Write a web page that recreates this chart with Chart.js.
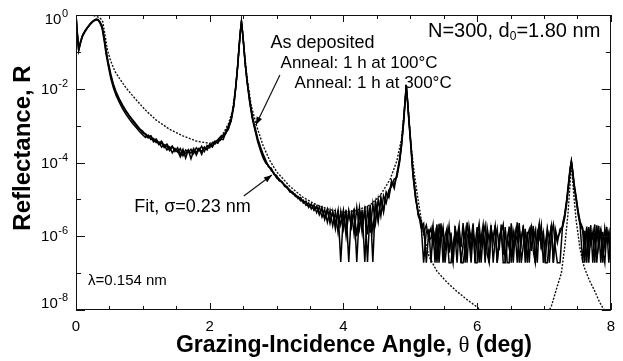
<!DOCTYPE html>
<html><head><meta charset="utf-8">
<script src="https://cdn.jsdelivr.net/npm/chart.js@4.4.1/dist/chart.umd.min.js"></script>
<style>html,body{margin:0;padding:0;background:#fff}#wrap{width:623px;height:361px}</style>
</head><body><div id="wrap"><canvas id="c" width="623" height="361"></canvas></div>
<script>
// Grazing-incidence angle (deg) of the measured scans
const measAngle = [
 0, 0.02, 0.04, 0.07, 0.1, 0.14, 0.18, 0.22, 0.26, 0.3, 0.33, 0.36, 0.39, 0.42, 0.45, 0.48, 0.52, 0.56, 0.6, 0.65, 0.7, 0.75, 0.8, 0.85, 0.9, 0.95, 1.0,
 1.04, 1.08, 1.12, 1.16, 1.2, 1.24, 1.28, 1.32, 1.36, 1.4, 1.44, 1.48, 1.52, 1.56, 1.6, 1.64, 1.68, 1.72, 1.76, 1.8, 1.84, 1.88, 1.92, 1.96, 2.0, 2.04, 2.08, 2.12, 2.16, 2.2, 2.24, 2.28,
 2.32, 2.36, 2.39, 2.42, 2.44, 2.46, 2.475, 2.49, 2.51, 2.53, 2.56, 2.6, 2.64, 2.68, 2.72, 2.76, 2.8,
 2.84, 2.88, 2.92, 2.96, 3.0, 3.04, 3.08, 3.12, 3.16, 3.2, 3.24, 3.28, 3.32, 3.36, 3.4, 3.44, 3.48, 3.52, 3.56, 3.6, 3.64, 3.68, 3.72, 3.76, 3.8, 3.84, 3.88, 3.92, 3.96, 4.0, 4.04, 4.08, 4.12, 4.16, 4.2, 4.24, 4.28, 4.32, 4.36, 4.4, 4.44, 4.48, 4.52, 4.56, 4.6, 4.64, 4.68,
 4.72, 4.76, 4.8, 4.84, 4.87, 4.9, 4.92, 4.94, 4.96, 4.98, 5.01, 5.04, 5.08, 5.12, 5.16, 5.2, 5.24, 5.28,
 5.31, 5.34, 5.37, 5.4, 5.43, 5.46, 5.49, 5.52, 5.55, 5.58, 5.61, 5.64, 5.67, 5.7, 5.73, 5.76, 5.79, 5.82, 5.85, 5.88, 5.91, 5.94, 5.97, 6.0, 6.03, 6.06, 6.09, 6.12, 6.15, 6.18, 6.21, 6.24, 6.27, 6.3, 6.33, 6.36, 6.39, 6.42, 6.45, 6.48, 6.51, 6.54, 6.57, 6.6, 6.63, 6.66, 6.69, 6.72, 6.75, 6.78, 6.81, 6.84, 6.87, 6.9, 6.93, 6.96, 6.99, 7.02, 7.05, 7.08, 7.11, 7.14, 7.17, 7.2,
 7.24, 7.28, 7.31, 7.34, 7.37, 7.39, 7.41, 7.43, 7.45, 7.48, 7.51, 7.54, 7.58,
 7.61, 7.64, 7.67, 7.7, 7.73, 7.76, 7.79, 7.82, 7.85, 7.88, 7.91, 7.94, 7.97, 8.0
];
// log10 of reflectance, as deposited
const logR_asDeposited = [
 0, -0.5, -0.95, -0.72, -0.55, -0.42, -0.32, -0.23, -0.16, -0.12, -0.13, -0.2, -0.32, -0.62, -1.0, -1.3, -1.65, -1.92, -2.12, -2.32, -2.48, -2.63, -2.76, -2.88, -3.0, -3.1, -3.2,
 -3.22, -3.30, -3.27, -3.40, -3.36, -3.48, -3.42, -3.55, -3.50, -3.62, -3.55, -3.70, -3.60, -3.78, -3.64, -3.88, -3.66, -3.75, -3.62, -3.80, -3.63, -3.70, -3.58, -3.66, -3.52, -3.58, -3.44, -3.48, -3.36, -3.38, -3.20, -3.10,
 -2.85, -2.45, -1.95, -1.35, -0.85, -0.42, -0.18, -0.45, -0.85, -1.30, -1.80, -2.35, -2.80, -3.10, -3.40, -3.62, -3.82,
 -3.98, -4.10, -4.18, -4.30, -4.38, -4.45, -4.55, -4.60, -4.70, -4.74, -4.85, -4.86, -4.98, -4.95, -5.10, -5.05, -5.22, -5.12, -5.30, -5.18, -5.42, -5.25, -5.55, -5.30, -5.65, -5.32, -5.80, -5.35, -5.70, -5.30, -6.00, -5.35, -5.75, -5.25, -6.70, -5.30, -5.90, -5.20, -6.70, -5.25, -5.85, -5.10, -5.60, -4.95, -5.30, -4.80, -4.95,
 -4.55, -4.60, -4.35, -3.95, -3.50, -2.90, -2.40, -1.92, -2.35, -2.85, -3.55, -4.30, -4.95, -5.40, -5.55, -5.90, -5.70, -6.10,
 -6.05, -5.70, -6.72, -5.85, -6.30, -5.65, -6.72, -6.00, -5.78, -6.45, -5.90, -6.72, -5.72, -6.20, -5.95, -6.72, -6.72, -6.35, -5.62, -6.10, -6.72, -5.88, -6.25, -5.75, -6.72, -6.05, -5.68, -6.40, -5.92, -6.72, -5.80, -6.15, -5.70, -6.72, -6.00, -5.85, -6.50, -5.75, -6.72, -6.72, -5.65, -6.30, -5.90, -6.72, -5.78, -6.20, -5.70, -6.72, -6.00, -5.82, -6.40, -5.72, -6.72, -6.08, -5.66, -6.35, -5.85, -6.72, -6.72, -6.15, -5.70, -6.72, -5.80, -6.05,
 -5.90, -5.70, -5.45, -5.05, -4.55, -4.20, -3.97, -4.25, -4.60, -4.95, -5.35, -5.65, -5.85,
 -6.72, -5.80, -6.25, -5.70, -6.72, -5.95, -6.10, -5.72, -6.72, -5.88, -6.30, -5.75, -6.72, -6.00
];
// log10 of reflectance, anneal 1 h at 100 C
const logR_anneal100 = [
 0, -0.52, -0.97, -0.75, -0.57, -0.44, -0.33, -0.24, -0.17, -0.13, -0.14, -0.22, -0.36, -0.68, -1.06, -1.36, -1.72, -1.98, -2.18, -2.38, -2.55, -2.70, -2.83, -2.95, -3.05, -3.16, -3.25,
 -3.32, -3.26, -3.38, -3.35, -3.46, -3.44, -3.58, -3.52, -3.66, -3.58, -3.74, -3.62, -3.68, -3.85, -3.70, -3.76, -3.66, -3.90, -3.68, -3.72, -3.62, -3.78, -3.60, -3.64, -3.50, -3.55, -3.42, -3.46, -3.30, -3.32, -3.15, -3.05,
 -2.88, -2.48, -1.98, -1.38, -0.88, -0.44, -0.20, -0.47, -0.88, -1.33, -1.84, -2.40, -2.84, -3.15, -3.45, -3.68, -3.88,
 -4.02, -4.08, -4.22, -4.28, -4.42, -4.48, -4.52, -4.65, -4.68, -4.80, -4.82, -4.92, -4.94, -5.04, -5.02, -5.16, -5.10, -5.26, -5.15, -5.36, -5.20, -5.48, -5.28, -5.62, -5.30, -5.72, -5.34, -5.90, -5.32, -5.80, -5.28, -6.70, -5.30, -5.95, -5.22, -5.80, -5.28, -6.70, -5.18, -5.90, -5.12, -5.65, -5.00, -5.45, -4.90, -5.10, -4.75,
 -4.65, -4.45, -4.40, -4.00, -3.55, -2.95, -2.45, -1.95, -2.40, -2.90, -3.60, -4.35, -5.00, -5.35, -5.75, -5.65, -6.72, -5.80,
 -6.72, -5.82, -6.10, -5.68, -6.72, -6.02, -5.75, -6.40, -5.88, -6.72, -6.72, -6.18, -5.95, -6.72, -5.78, -6.30, -5.64, -6.72, -6.05, -5.82, -6.45, -5.72, -6.72, -6.00, -5.66, -6.25, -5.90, -6.72, -5.76, -6.12, -5.70, -6.72, -6.08, -5.80, -6.38, -5.68, -6.72, -6.72, -6.20, -5.74, -6.72, -5.86, -6.15, -5.62, -6.72, -6.02, -5.78, -6.42, -5.88, -6.72, -5.70, -6.10, -5.84, -6.72, -5.66, -6.28, -5.92, -6.72, -5.80, -6.05, -5.72, -6.72, -5.90, -6.18,
 -5.80, -5.75, -5.50, -5.10, -4.60, -4.24, -4.00, -4.28, -4.64, -5.00, -5.40, -5.70, -6.72,
 -5.85, -6.72, -5.75, -6.20, -5.90, -6.72, -5.70, -6.30, -5.82, -6.72, -5.78, -6.10, -5.88, -6.72
];
// log10 of reflectance, anneal 1 h at 300 C
const logR_anneal300 = [
 0, -0.48, -0.93, -0.70, -0.54, -0.41, -0.31, -0.22, -0.15, -0.11, -0.12, -0.19, -0.30, -0.58, -0.96, -1.26, -1.60, -1.88, -2.08, -2.28, -2.45, -2.60, -2.73, -2.85, -2.96, -3.08, -3.15,
 -3.25, -3.34, -3.30, -3.44, -3.40, -3.52, -3.47, -3.60, -3.55, -3.68, -3.58, -3.65, -3.72, -3.62, -3.82, -3.66, -3.72, -3.64, -3.76, -3.60, -3.68, -3.56, -3.70, -3.54, -3.60, -3.46, -3.50, -3.38, -3.40, -3.25, -3.22, -3.00,
 -2.82, -2.42, -1.92, -1.32, -0.82, -0.40, -0.17, -0.43, -0.83, -1.28, -1.78, -2.32, -2.76, -3.06, -3.36, -3.58, -3.78,
 -3.95, -4.12, -4.15, -4.32, -4.35, -4.50, -4.52, -4.62, -4.66, -4.78, -4.80, -4.90, -4.92, -5.00, -5.06, -5.08, -5.18, -5.15, -5.28, -5.20, -5.38, -5.22, -5.50, -5.26, -5.58, -5.36, -5.65, -5.30, -6.70, -5.38, -5.85, -5.30, -5.70, -5.32, -6.00, -5.22, -5.75, -5.28, -5.95, -5.15, -6.70, -5.05, -5.55, -4.98, -5.35, -4.85, -4.90,
 -4.50, -4.70, -4.30, -3.90, -3.45, -2.85, -2.36, -1.90, -2.32, -2.82, -3.50, -4.25, -4.90, -5.45, -5.60, -6.72, -5.85, -5.95,
 -5.78, -6.25, -5.92, -6.72, -5.66, -6.08, -5.85, -6.72, -6.15, -5.72, -6.35, -6.72, -5.80, -6.02, -5.70, -6.72, -6.22, -5.86, -6.72, -5.74, -6.10, -5.65, -6.72, -6.72, -5.82, -6.72, -5.96, -5.70, -6.48, -6.72, -5.84, -6.05, -5.72, -6.72, -6.18, -5.88, -5.68, -6.72, -6.00, -6.32, -5.76, -6.72, -5.92, -6.12, -5.64, -6.72, -6.26, -5.80, -6.72, -5.98, -5.74, -6.40, -6.72, -5.86, -6.06, -5.70, -6.72, -6.20, -5.82, -6.72, -5.94, -5.68, -6.30, -6.72,
 -6.72, -5.65, -5.40, -5.00, -4.50, -4.16, -3.95, -4.22, -4.56, -4.92, -5.30, -5.60, -5.78,
 -6.20, -5.74, -6.72, -5.92, -6.05, -5.68, -6.72, -6.00, -5.80, -6.40, -6.72, -5.86, -6.15, -5.74
];
// Fit, sigma = 0.23 nm
const fitAngle = [0, 0.1, 0.2, 0.28, 0.33, 0.37, 0.4, 0.43, 0.47, 0.52, 0.58, 0.65, 0.75, 0.9, 1.05, 1.2, 1.4, 1.6, 1.8, 2.0, 2.1, 2.2, 2.28, 2.34, 2.39, 2.43, 2.46, 2.475, 2.49, 2.52, 2.56, 2.62, 2.7, 2.8, 2.9, 3.0, 3.2, 3.4, 3.6, 3.8, 4.0, 4.2, 4.4, 4.55, 4.7, 4.8, 4.87, 4.91, 4.94, 4.97, 5.01, 5.06, 5.12, 5.2, 5.28, 5.4, 5.55, 5.7, 5.85, 6.0, 6.05, 7.08, 7.11, 7.2, 7.26, 7.31, 7.36, 7.39, 7.41, 7.44, 7.48, 7.54, 7.6, 7.68, 7.75, 7.83, 7.9, 8.0];
const logR_fit = [0, 0, 0, -0.02, -0.06, -0.1, -0.18, -0.5, -0.95, -1.25, -1.52, -1.72, -1.98, -2.3, -2.6, -2.85, -3.1, -3.28, -3.42, -3.48, -3.42, -3.22, -2.95, -2.6, -1.95, -1.1, -0.45, -0.2, -0.42, -1.0, -1.72, -2.45, -3.0, -3.55, -3.95, -4.25, -4.65, -4.95, -5.15, -5.28, -5.35, -5.3, -5.15, -4.9, -4.45, -3.95, -3.35, -2.6, -1.92, -2.55, -3.5, -4.3, -5.05, -5.95, -6.55, -6.95, -7.25, -7.5, -7.72, -7.92, -8, -8, -7.9, -7.35, -7.0, -6.3, -5.37, -4.6, -4.0, -4.75, -5.55, -6.35, -6.83, -7.2, -7.45, -7.78, -8, -8];

const xTickPositions = [0, 0.5, 1, 1.5, 2, 2.5, 3, 3.5, 4, 4.5, 5, 5.5, 6, 6.5, 7, 7.5, 8];
const xLabelValues = [0, 2, 4, 6, 8];
const yTickDecades = [0, -1, -2, -3, -4, -5, -6, -7, -8];
const yLabelExponents = [0, -2, -4, -6, -8];

function toPoints(xs, logs) {
  const n = Math.min(xs.length, logs.length);
  const out = [];
  for (let i = 0; i < n; i++) out.push({x: xs[i], y: Math.pow(10, logs[i])});
  return out;
}

const FONT = '"Liberation Sans", Arial, Helvetica, sans-serif';
Chart.defaults.font.family = FONT;

const decor = {
  id: 'decor',
  afterDraw(chart) {
    const {ctx, chartArea: a, scales: {x, y}} = chart;
    const P = (t, lg) => [x.getPixelForValue(t), y.getPixelForValue(Math.pow(10, lg))];
    ctx.save();
    ctx.strokeStyle = '#111'; ctx.fillStyle = '#000'; ctx.lineWidth = 1;
    const L = (x1, y1, x2, y2) => { ctx.beginPath(); ctx.moveTo(x1, y1); ctx.lineTo(x2, y2); ctx.stroke(); };
    // frame
    ctx.strokeRect(Math.round(a.left) + 0.5, Math.round(a.top) + 0.5, Math.round(a.right - a.left) - 1, Math.round(a.bottom - a.top) - 1);
    // x ticks (inward, bottom and top)
    xTickPositions.forEach(v => {
      const px = Math.round(x.getPixelForValue(v)) + 0.5;
      const len = (xLabelValues.includes(v)) ? 7 : 4;
      L(px, a.bottom, px, a.bottom - len);
      L(px, a.top, px, a.top + len);
    });
    // y ticks (inward, left and right)
    yTickDecades.forEach(e => {
      const py = Math.round(y.getPixelForValue(Math.pow(10, e))) + 0.5;
      const len = (yLabelExponents.includes(e)) ? 9 : 5;
      L(a.left, py, a.left + len, py);
      L(a.right, py, a.right - len, py);
    });
    // y labels 10^n
    ctx.textAlign = 'right'; ctx.textBaseline = 'alphabetic';
    yLabelExponents.forEach((e, i) => {
      const py = y.getPixelForValue(Math.pow(10, e));
      let base = py + 5;
      if (i === 0) base = py + 9;
      if (i === yLabelExponents.length - 1) base = py - 2;
      ctx.font = '11px ' + FONT;
      const expStr = String(e);
      const ex = a.left - 8;
      ctx.fillText(expStr, ex, base - 7);
      const w = ctx.measureText(expStr).width;
      ctx.font = '15px ' + FONT;
      ctx.fillText('10', ex - w - 0.5, base);
    });
    // axis titles
    ctx.font = 'bold 24px ' + FONT;
    ctx.textAlign = 'center';
    ctx.save();
    ctx.translate(30, 148);
    ctx.rotate(-Math.PI / 2);
    ctx.fillText('Reflectance, R', 0, 0);
    ctx.restore();
    // x title in pieces: bold sans, plain theta, bold sans
    ctx.textAlign = 'left';
    const tA = 'Grazing-Incidence Angle, ', tB = '\u03B8', tC = ' (deg)';
    const fBold = 'bold 23px ' + FONT, fTheta = '23px "Liberation Serif", "DejaVu Serif", serif';
    ctx.font = fBold; const wA = ctx.measureText(tA).width, wC = ctx.measureText(tC).width;
    ctx.font = fTheta; const wB = ctx.measureText(tB).width;
    let sx = 354 - (wA + wB + wC) / 2;
    ctx.font = fBold; ctx.fillText(tA, sx, 352);
    ctx.font = fTheta; ctx.fillText(tB, sx + wA, 352);
    ctx.font = fBold; ctx.fillText(tC, sx + wA + wB, 352);
    // annotations
    ctx.font = '20px ' + FONT;
    let [tx, ty] = P(5.265, -0.6);
    const s1 = 'N=300, d';
    ctx.fillText(s1, tx, ty);
    let w1 = ctx.measureText(s1).width;
    ctx.font = '12px ' + FONT;
    ctx.fillText('0', tx + w1, ty + 3);
    const w2 = ctx.measureText('0').width;
    ctx.font = '20px ' + FONT;
    ctx.fillText('=1.80 nm', tx + w1 + w2, ty);

    ctx.font = '18px ' + FONT;
    [tx, ty] = P(2.91, -0.89); ctx.fillText('As deposited', tx, ty);
    ctx.font = '17px ' + FONT;
    [tx, ty] = P(3.06, -1.44); ctx.fillText('Anneal: 1 h at 100\u00B0C', tx, ty);
    [tx, ty] = P(3.27, -1.98); ctx.fillText('Anneal: 1 h at 300\u00B0C', tx, ty);
    ctx.font = '18px ' + FONT;
    [tx, ty] = P(0.87, -5.34); ctx.fillText('Fit, \u03C3=0.23 nm', tx, ty);
    ctx.font = '15px ' + FONT;
    [tx, ty] = P(0.18, -7.32); ctx.fillText('\u03BB=0.154 nm', tx, ty);

    const arrow = (p1, p2) => {
      const [x1, y1] = p1, [x2, y2] = p2;
      L(x1, y1, x2, y2);
      const ang = Math.atan2(y2 - y1, x2 - x1), hl = 8, hw = 3;
      ctx.beginPath();
      ctx.moveTo(x2, y2);
      ctx.lineTo(x2 - hl * Math.cos(ang) + hw * Math.sin(ang), y2 - hl * Math.sin(ang) - hw * Math.cos(ang));
      ctx.lineTo(x2 - hl * Math.cos(ang) - hw * Math.sin(ang), y2 - hl * Math.sin(ang) + hw * Math.cos(ang));
      ctx.closePath(); ctx.fill();
    };
    ctx.lineWidth = 1.2;
    arrow(P(3.05, -1.63), P(2.69, -2.98));
    arrow(P(2.51, -4.91), P(2.93, -4.34));
    ctx.restore();
  }
};

const lineStyle = {showLine: true, pointRadius: 0, borderColor: '#000', borderWidth: 1.5, tension: 0, fill: false};

new Chart(document.getElementById('c'), {
  type: 'scatter',
  data: {
    datasets: [
      Object.assign({label: 'As deposited', data: toPoints(measAngle, logR_asDeposited)}, lineStyle),
      Object.assign({label: 'Anneal: 1 h at 100\u00B0C', data: toPoints(measAngle, logR_anneal100)}, lineStyle),
      Object.assign({label: 'Anneal: 1 h at 300\u00B0C', data: toPoints(measAngle, logR_anneal300)}, lineStyle),
      {label: 'Fit, \u03C3=0.23 nm', data: toPoints(fitAngle, logR_fit), showLine: true, pointRadius: 0, borderColor: '#111', borderWidth: 1.4, borderDash: [2, 1.5], tension: 0, fill: false}
    ]
  },
  options: {
    responsive: false,
    animation: false,
    devicePixelRatio: 1,
    layout: {padding: {top: 15, right: 6, left: 0, bottom: 0}},
    plugins: {legend: {display: false}, tooltip: {enabled: false}},
    scales: {
      x: {
        type: 'linear', min: 0, max: 8,
        grid: {display: false, drawTicks: false},
        border: {display: false},
        ticks: {stepSize: 2, color: '#000', font: {size: 15}, padding: 8, maxRotation: 0},
        afterFit(s) { s.height = 51; }
      },
      y: {
        type: 'logarithmic', min: 1e-8, max: 1,
        grid: {display: false, drawTicks: false},
        border: {display: false},
        ticks: {display: false},
        afterFit(s) { s.width = 76; }
      }
    }
  },
  plugins: [decor]
});
</script>
</body></html>
